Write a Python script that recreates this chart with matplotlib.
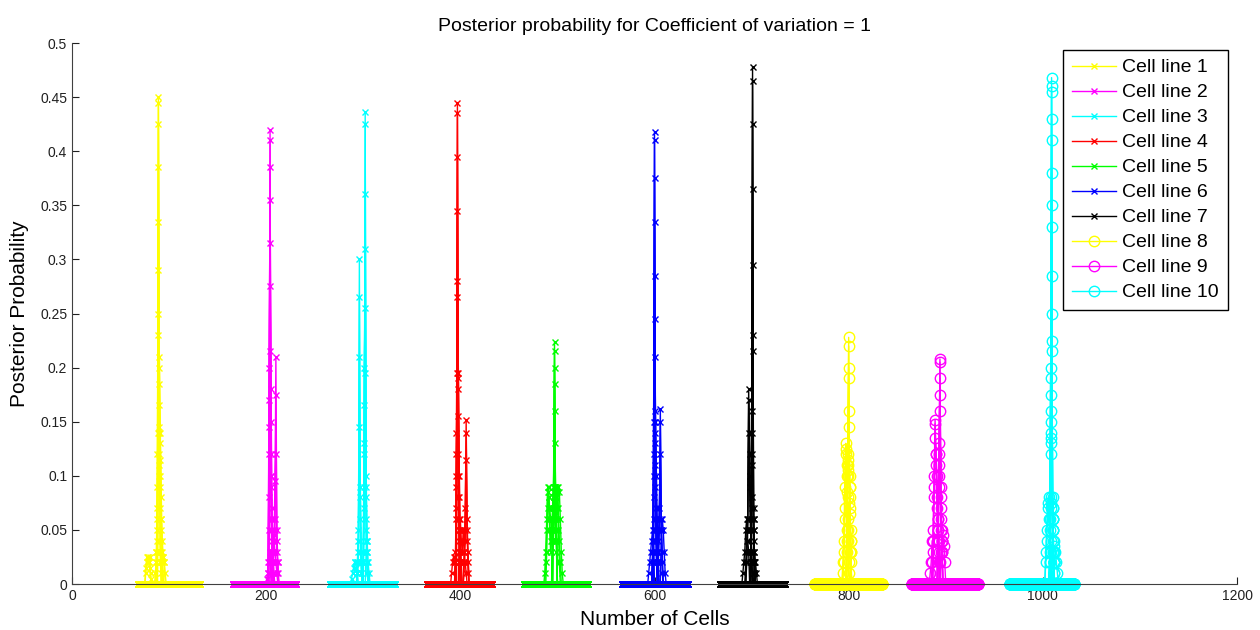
import matplotlib

matplotlib.use("Agg")
import matplotlib.pyplot as plt  # noqa: E402
import numpy as np  # noqa: E402
from matplotlib.ticker import FuncFormatter  # noqa: E402

plt.rcParams["font.family"] = ["Liberation Sans", "DejaVu Sans"]

labels = ["Cell line 1", "Cell line 2", "Cell line 3", "Cell line 4", "Cell line 5",
          "Cell line 6", "Cell line 7", "Cell line 8", "Cell line 9", "Cell line 10"]
colors = ["#ffff00", "#ff00ff", "#00ffff", "#ff0000", "#00ff00",
          "#0000ff", "#000000", "#ffff00", "#ff00ff", "#00ffff"]
markers = ["x", "x", "x", "x", "x", "x", "x", "o", "o", "o"]

# support of each posterior (number of cells), zero outside the listed traces
x_ranges = [(68, 132), (166, 231), (266, 333), (366, 433), (466, 532),
            (567, 634), (667, 734), (765, 834), (865, 933), (966, 1032)]

# each trace: (first x, posterior values from that x on)
traces_1 = [
    (86, [0.01, 0.03, 0.12, 0.45, 0.14, 0.03]),
    (87, [0.02, 0.07, 0.445, 0.12, 0.02]),
    (87, [0.03, 0.09, 0.425, 0.145, 0.04, 0.01]),
    (87, [0.02, 0.06, 0.385, 0.11, 0.07, 0.02]),
    (88, [0.04, 0.335, 0.2, 0.09, 0.03]),
    (88, [0.03, 0.29, 0.185, 0.10, 0.05, 0.02]),
    (88, [0.05, 0.25, 0.21, 0.14, 0.06, 0.02]),
    (89, [0.23, 0.165, 0.13, 0.08, 0.03]),
    (89, [0.14, 0.10, 0.115, 0.06, 0.04, 0.025, 0.02]),
    (76, [0.015, 0.025, 0.025, 0.02, 0.025, 0.01]),
    (76, [0.01, 0.02, 0.025, 0.02, 0.015, 0.005]),
    (93, [0.025, 0.025, 0.02, 0.01]),
]
traces_2 = [
    (202, [0.01, 0.05, 0.42, 0.06, 0.02]),
    (202, [0.02, 0.08, 0.41, 0.09, 0.03]),
    (203, [0.145, 0.385, 0.10, 0.04]),
    (203, [0.20, 0.355, 0.12, 0.05]),
    (203, [0.17, 0.315, 0.15, 0.06, 0.02]),
    (203, [0.12, 0.275, 0.18, 0.07, 0.03]),
    (204, [0.215, 0.10, 0.06, 0.03, 0.01]),
    (207, [0.02, 0.04, 0.06, 0.21, 0.05, 0.02]),
    (207, [0.01, 0.03, 0.05, 0.175, 0.04, 0.01]),
    (207, [0.02, 0.03, 0.095, 0.12, 0.03, 0.02]),
    (205, [0.03, 0.02, 0.03, 0.045, 0.03, 0.02, 0.01]),
    (201, [0.005, 0.01, 0.02, 0.03, 0.02]),
]
traces_3 = [
    (294, [0.01, 0.02, 0.30, 0.04, 0.01]),
    (294, [0.01, 0.03, 0.265, 0.06, 0.02]),
    (294, [0.02, 0.04, 0.21, 0.08, 0.02]),
    (294, [0.02, 0.05, 0.145, 0.09, 0.03]),
    (300, [0.02, 0.07, 0.436, 0.04, 0.01]),
    (300, [0.03, 0.09, 0.425, 0.05, 0.02]),
    (301, [0.12, 0.36, 0.06, 0.02]),
    (301, [0.165, 0.31, 0.08, 0.03]),
    (301, [0.20, 0.255, 0.10, 0.04]),
    (301, [0.13, 0.195, 0.09, 0.03]),
    (288, [0.005, 0.01, 0.015, 0.02, 0.02, 0.015, 0.01]),
    (303, [0.03, 0.04, 0.02, 0.01]),
]
traces_4 = [
    (395, [0.02, 0.06, 0.445, 0.08, 0.02]),
    (395, [0.03, 0.09, 0.435, 0.10, 0.03]),
    (395, [0.02, 0.07, 0.395, 0.12, 0.04]),
    (396, [0.14, 0.345, 0.18, 0.05]),
    (396, [0.10, 0.28, 0.195, 0.06, 0.02]),
    (396, [0.12, 0.265, 0.19, 0.08, 0.03]),
    (397, [0.195, 0.155, 0.10, 0.05, 0.02]),
    (404, [0.02, 0.05, 0.152, 0.06, 0.02]),
    (404, [0.03, 0.07, 0.14, 0.05, 0.01]),
    (404, [0.02, 0.04, 0.115, 0.04, 0.03]),
    (391, [0.01, 0.02, 0.025, 0.025, 0.02]),
    (399, [0.05, 0.06, 0.04, 0.03, 0.05, 0.03, 0.02, 0.01]),
]
traces_5 = [
    (495, [0.05, 0.09, 0.224, 0.08, 0.04]),
    (495, [0.06, 0.085, 0.215, 0.09, 0.05]),
    (495, [0.04, 0.07, 0.20, 0.085, 0.06]),
    (496, [0.08, 0.185, 0.07, 0.05]),
    (496, [0.09, 0.16, 0.06, 0.04]),
    (496, [0.07, 0.13, 0.09, 0.03]),
    (487, [0.01, 0.03, 0.06, 0.09, 0.08, 0.07, 0.06, 0.05, 0.06, 0.07,
           0.08, 0.09, 0.08, 0.07, 0.09, 0.085, 0.06, 0.03, 0.01]),
    (488, [0.02, 0.05, 0.085, 0.09, 0.06, 0.04, 0.05, 0.07, 0.09, 0.06,
           0.05, 0.08, 0.09, 0.07, 0.04, 0.02]),
    (489, [0.03, 0.07, 0.08, 0.05, 0.03, 0.04, 0.06, 0.08, 0.07, 0.04,
           0.06, 0.085, 0.05, 0.02]),
]
traces_6 = [
    (598, [0.02, 0.05, 0.418, 0.06, 0.02]),
    (598, [0.03, 0.08, 0.41, 0.09, 0.03]),
    (598, [0.02, 0.06, 0.375, 0.11, 0.04]),
    (599, [0.12, 0.335, 0.15, 0.05]),
    (599, [0.15, 0.285, 0.13, 0.06, 0.02]),
    (599, [0.10, 0.245, 0.16, 0.07, 0.03]),
    (600, [0.21, 0.14, 0.10, 0.05, 0.02]),
    (604, [0.03, 0.06, 0.162, 0.05, 0.02]),
    (604, [0.02, 0.05, 0.15, 0.06, 0.01]),
    (604, [0.04, 0.07, 0.12, 0.05, 0.03]),
    (594, [0.01, 0.02, 0.03, 0.04, 0.05, 0.04]),
    (607, [0.05, 0.06, 0.05, 0.03, 0.01]),
]
traces_7 = [
    (699, [0.02, 0.06, 0.478, 0.05, 0.01]),
    (699, [0.03, 0.08, 0.465, 0.07, 0.02]),
    (699, [0.02, 0.07, 0.425, 0.06, 0.02]),
    (700, [0.11, 0.365, 0.05, 0.01]),
    (700, [0.14, 0.295, 0.06, 0.02]),
    (700, [0.16, 0.23, 0.04, 0.01]),
    (700, [0.12, 0.215, 0.03, 0.02]),
    (695, [0.02, 0.06, 0.18, 0.10, 0.05, 0.03]),
    (695, [0.03, 0.05, 0.17, 0.12, 0.06, 0.02]),
    (694, [0.02, 0.04, 0.06, 0.14, 0.09, 0.05, 0.03]),
    (691, [0.01, 0.02, 0.03, 0.05, 0.06, 0.04, 0.03]),
    (703, [0.03, 0.02, 0.01]),
]
traces_8 = [
    (798, [0.03, 0.08, 0.228, 0.07, 0.02]),
    (798, [0.04, 0.10, 0.22, 0.09, 0.03]),
    (798, [0.05, 0.11, 0.20, 0.10, 0.04]),
    (799, [0.12, 0.19, 0.08, 0.03]),
    (799, [0.115, 0.16, 0.09, 0.04]),
    (799, [0.105, 0.145, 0.065, 0.05]),
    (794, [0.01, 0.03, 0.07, 0.13, 0.11, 0.06, 0.02]),
    (794, [0.02, 0.04, 0.09, 0.125, 0.10, 0.05, 0.01]),
    (795, [0.02, 0.06, 0.12, 0.085, 0.04, 0.075, 0.03]),
]
traces_9 = [
    (892, [0.04, 0.09, 0.208, 0.07, 0.03]),
    (892, [0.05, 0.10, 0.205, 0.08, 0.04]),
    (892, [0.06, 0.12, 0.19, 0.09, 0.05]),
    (893, [0.13, 0.175, 0.06, 0.03]),
    (893, [0.11, 0.16, 0.05, 0.04]),
    (887, [0.03, 0.08, 0.152, 0.11, 0.07, 0.04, 0.02]),
    (887, [0.04, 0.10, 0.148, 0.12, 0.08, 0.05, 0.03]),
    (886, [0.02, 0.05, 0.09, 0.135, 0.12, 0.10, 0.06, 0.04, 0.02]),
    (895, [0.03, 0.04, 0.045, 0.035, 0.02]),
    (884, [0.01, 0.02, 0.04, 0.04]),
]
traces_10 = [
    (1007, [0.02, 0.07, 0.468, 0.04, 0.01]),
    (1007, [0.03, 0.08, 0.46, 0.05, 0.02]),
    (1007, [0.02, 0.075, 0.455, 0.03, 0.01]),
    (1008, [0.13, 0.43, 0.06, 0.02]),
    (1008, [0.12, 0.41, 0.07, 0.03]),
    (1008, [0.14, 0.38, 0.05, 0.02]),
    (1008, [0.15, 0.35, 0.06, 0.02]),
    (1008, [0.135, 0.33, 0.08, 0.03]),
    (1008, [0.16, 0.285, 0.07, 0.02]),
    (1008, [0.175, 0.25, 0.03, 0.03]),
    (1008, [0.19, 0.225, 0.05, 0.02]),
    (1008, [0.2, 0.215, 0.06, 0.04]),
    (1003, [0.02, 0.04, 0.07, 0.08, 0.06, 0.03]),
    (1003, [0.03, 0.05, 0.075, 0.06, 0.05, 0.04]),
    (1011, [0.03, 0.035, 0.03, 0.02, 0.01]),
]
all_traces = [traces_1, traces_2, traces_3, traces_4, traces_5,
              traces_6, traces_7, traces_8, traces_9, traces_10]

fig = plt.figure(figsize=(12.6, 6.3), dpi=100)
ax = fig.add_axes([72 / 1260, 46 / 630, 1165 / 1260, 541 / 630])

handles = []
for (lo, hi), traces, c, m, lab in zip(x_ranges, all_traces, colors, markers, labels):
    xs = np.arange(lo, hi + 1)
    ms = 5 if m == "x" else 7.5
    for k, (start, vals) in enumerate(traces):
        ys = np.zeros(len(xs))
        ys[start - lo:start - lo + len(vals)] = vals
        h, = ax.plot(xs, ys, color=c, marker=m, markersize=ms, markerfacecolor="none",
                     markeredgewidth=1.0, linewidth=1.0, clip_on=False)
        if k == 0:
            handles.append(h)

ax.set_xlim(0, 1200)
ax.set_ylim(0, 0.5)
ax.set_xticks(np.arange(0, 1201, 200))
ax.set_yticks(np.arange(0, 0.501, 0.05))
ax.yaxis.set_major_formatter(FuncFormatter(lambda v, p: f"{v:g}"))
for s in ("top", "right"):
    ax.spines[s].set_visible(False)
for s in ("left", "bottom"):
    ax.spines[s].set_color("#404040")
ax.tick_params(direction="in", length=5, labelsize=10, colors="#202020")
ax.set_xlabel("Number of Cells", fontsize=15, labelpad=5)
ax.set_ylabel("Posterior Probability", fontsize=15, labelpad=8)
ax.set_title("Posterior probability for Coefficient of variation = 1", fontsize=14, pad=9)

leg = ax.legend(handles, labels, loc="upper right", bbox_to_anchor=(0.992, 0.987),
                borderaxespad=0, numpoints=1, fontsize=14, fancybox=False, framealpha=1,
                edgecolor="black", handlelength=2.3, labelspacing=0.38,
                borderpad=0.45, handletextpad=0.3)
leg.get_frame().set_linewidth(1.0)

fig.savefig("out.png", dpi=100)
